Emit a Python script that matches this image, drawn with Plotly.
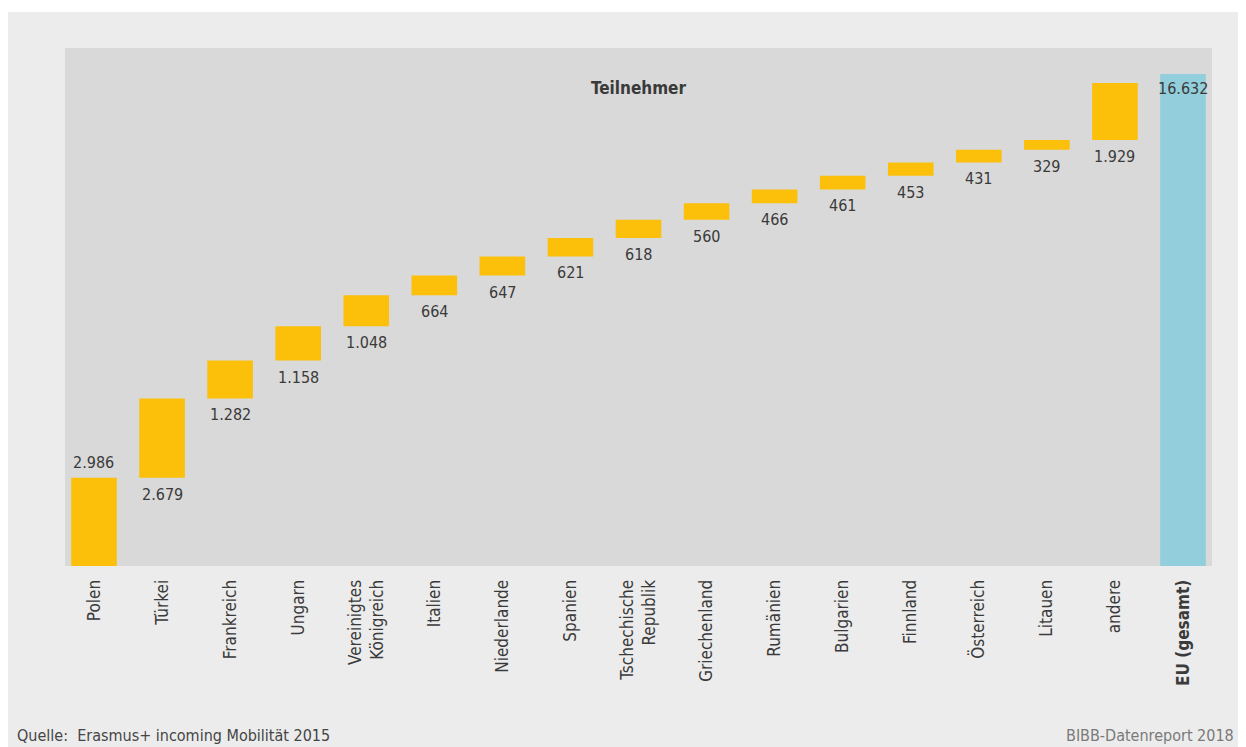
import plotly.graph_objects as go

countries = ["Polen", "Türkei", "Frankreich", "Ungarn", "Vereinigtes Königreich", "Italien",
             "Niederlande", "Spanien", "Tschechische Republik", "Griechenland", "Rumänien",
             "Bulgarien", "Finnland", "Österreich", "Litauen", "andere", "EU (gesamt)"]
tick_labels = ["Polen", "Türkei", "Frankreich", "Ungarn", "Vereinigtes<br>Königreich", "Italien",
               "Niederlande", "Spanien", "Tschechische<br>Republik", "Griechenland", "Rumänien",
               "Bulgarien", "Finnland", "Österreich", "Litauen", "andere", "<b>EU (gesamt)</b>"]
participants = [2986, 2679, 1282, 1158, 1048, 664, 647, 621, 618, 560, 466, 461, 453, 431, 329, 1929]
total = 16632

FONT = "DejaVu Sans Condensed, Liberation Sans Narrow, sans-serif"
TXT = "#3a3a3a"
W, H = 1246, 747
L, R, T, B = 57, 42, 40, 189   # page is offset by the 8px body margin


def px(x):
    return (x - L) / (W - L - R)


def py(y):
    return (H - B - y) / (H - T - B)


def de(v):
    return f"{v:,}".replace(",", ".")


measures = ["relative"] * len(participants) + ["absolute"]
values = participants + [total]

fig = go.Figure()
fig.add_trace(go.Waterfall(
    x=countries, y=values, measure=measures,
    increasing=dict(marker=dict(color="#FCBF0A")),
    totals=dict(marker=dict(color="#93CEDC")),
    connector=dict(visible=False),
    textposition="none", hoverinfo="skip",
))

# value labels: above the first bar, below the floating bars, inside the total
labels = []
run = 0
for i, v in enumerate(participants):
    if i == 0:
        labels.append(dict(x=countries[i], y=v, text=de(v), yanchor="bottom", yshift=4))
    else:
        labels.append(dict(x=countries[i], y=run, text=de(v), yanchor="top", yshift=-5))
    run += v
labels.append(dict(x=countries[-1], y=total, text=de(total), yanchor="top", yshift=-3))
for a in labels:
    a.update(xref="x", yref="y", showarrow=False, font=dict(size=16, color=TXT))

fig.update_layout(
    width=W, height=H, margin=dict(l=L, r=R, t=T, b=B),
    paper_bgcolor="#ECECEC", plot_bgcolor="#D9D9D9",
    showlegend=False, waterfallgap=0.33,
    font=dict(family=FONT, size=16, color=TXT),
    xaxis=dict(tickmode="array", tickvals=countries, ticktext=tick_labels,
               tickangle=-90, range=[-0.426, 16.426], showgrid=False,
               ticks="outside", ticklen=6, tickcolor="rgba(0,0,0,0)",
               tickfont=dict(family=FONT, size=17, color=TXT)),
    yaxis=dict(range=[0, 17512], visible=False, showgrid=False),
    annotations=labels + [
        dict(text="<b>Teilnehmer</b>", x=0.5, y=py(80), xref="paper", yref="paper",
             yanchor="middle", showarrow=False, font=dict(size=17, color=TXT)),
        dict(text="Quelle:  Erasmus+ incoming Mobilität 2015", x=px(7), y=py(727),
             xref="paper", yref="paper", xanchor="left", yanchor="middle", showarrow=False,
             font=dict(size=16, color="#454545")),
        dict(text="BIBB-Datenreport 2018", x=px(1228), y=py(727),
             xref="paper", yref="paper", xanchor="right", yanchor="middle", showarrow=False,
             font=dict(size=16, color="#7a7a7a")),
    ],
    shapes=[
        dict(type="rect", xref="paper", yref="paper", x0=px(-5), x1=px(W + 5),
             y0=py(4), y1=py(-5), fillcolor="white", line_width=0, layer="below"),
    ],
)

fig.write_html("out.html")
